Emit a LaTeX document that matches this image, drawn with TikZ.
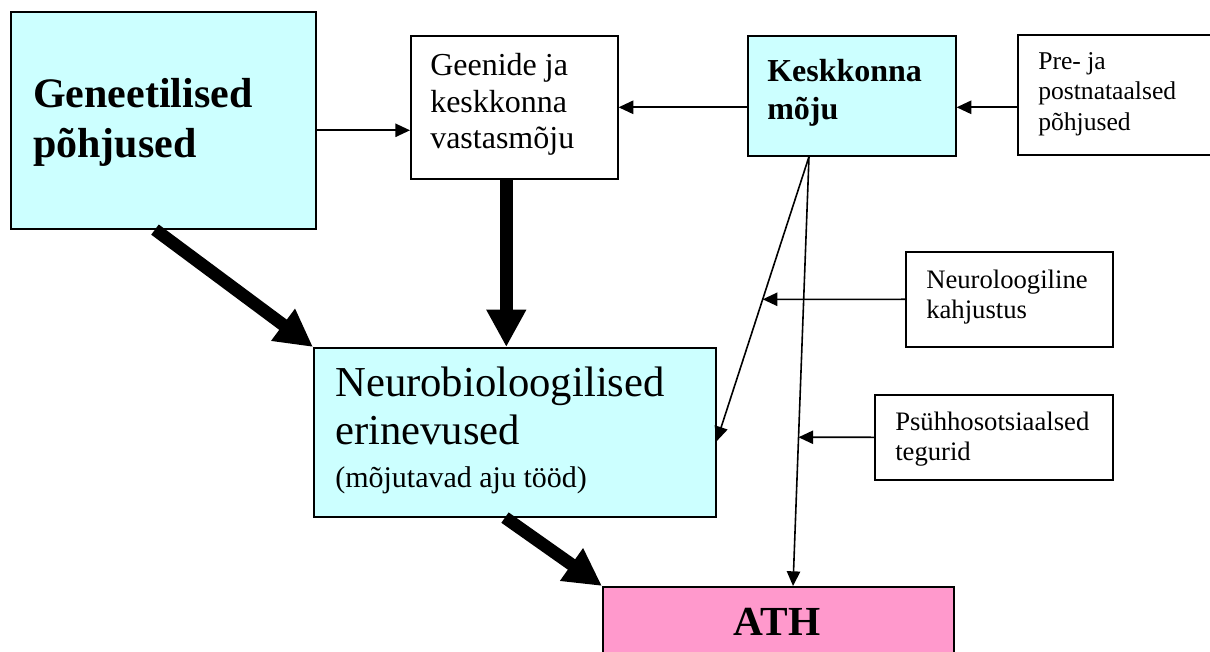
\documentclass[tikz,border=0pt]{standalone}
\usepackage{fontspec}
\setmainfont{Liberation Serif}
\usetikzlibrary{calc,arrows.meta}
\definecolor{boxcyan}{HTML}{CCFFFF}
\definecolor{boxpink}{HTML}{FF99CC}
\tikzset{
  box/.style={draw, line width=1.2pt, anchor=north west, inner sep=0pt},
  txt/.style={anchor=north west, align=left, inner sep=0pt},
  thinarrow/.style={line width=1.2pt, -{Triangle[length=11pt,width=10pt]}},
  fatarrow/.style={line width=9.5pt, -{Triangle[length=28pt,width=28pt]}},
}

\begin{document}
\begin{tikzpicture}[x=0.75pt, y=-0.75pt]
		%%%%% START %%%%%
		\useasboundingbox (0,0) rectangle (1210,652);
		
		\node[box, fill=boxcyan, minimum width=228.75pt, minimum height=162.75pt] (gen) at (10,11) {};
		\node[box, fill=white, minimum width=155.25pt, minimum height=107.25pt] (geen) at (410,35) {};
		\node[box, fill=boxcyan, minimum width=156pt, minimum height=90pt] (kesk) at (747,35) {};
		\node[box, fill=white, minimum width=160pt, minimum height=90pt] (pre) at (1017,34) {};
		\node[box, fill=white, minimum width=155.25pt, minimum height=71.25pt] (neuro) at (905,251) {};
		\node[box, fill=white, minimum width=178.5pt, minimum height=63.75pt] (psy) at (874,394) {};
		\node[box, fill=boxcyan, minimum width=301.5pt, minimum height=126.75pt] (nbio) at (313,347) {};
		\node[box, fill=boxpink, minimum width=263.25pt, minimum height=60pt] (ath) at (602,586) {};
		
		\node[txt, font=\fontsize{31.5}{37.5}\selectfont\bfseries] (gentxt) at (33,78) {Geneetilised\\põhjused};
		\node[txt, font=\fontsize{24}{27.4}\selectfont] (geentxt) at (430,53) {Geenide ja\\keskkonna\\vastasmõju};
		\node[txt, font=\fontsize{24}{28.5}\selectfont\bfseries] (kesktxt) at (767,59) {Keskkonna\\mõju};
		\node[txt, font=\fontsize{19.2}{23}\selectfont] (pretxt) at (1038,52) {Pre- ja\\postnataalsed\\põhjused};
		\node[txt, font=\fontsize{20}{22.5}\selectfont] (neurotxt) at (926,270) {Neuroloogiline\\kahjustus};
		\node[txt, font=\fontsize{20}{22.5}\selectfont] (psytxt) at (895,412) {Psühhosotsiaalsed\\tegurid};
		\node[txt, font=\fontsize{32}{35.5}\selectfont] (nbiotxt) at (335,367) {Neurobioloogilised\\erinevused\\[-3pt]{\fontsize{22.5}{27}\selectfont (mõjutavad aju tööd)}};
		\node[anchor=base, inner sep=0pt, font=\fontsize{31}{37}\selectfont\bfseries] (athtxt) at (777,635) {ATH};
		
		% thin arrows
		\coordinate (genout) at ($(gen.east)+(0,10)$);
		\draw[thinarrow] (genout) -- (genout -| geen.west);
		\draw[thinarrow] (kesk.west |- geen.east) -- (geen.east);
		\draw[thinarrow] (pre.west |- geen.east) -- (kesk.east |- geen.east);
		
		\coordinate (kfoot) at ($(kesk.south west)+(62,0)$);
		\coordinate (nbhit) at ($(nbio.east)+(0,9)$);
		\coordinate (athhit) at ($(ath.north west)+(191,0)$);
		\draw[thinarrow] (kfoot) -- (nbhit);
		\draw[thinarrow] (kfoot) -- (athhit);
		\draw[thinarrow] (neuro.west) -- (intersection cs: first line={(kfoot)--(nbhit)}, second line={(neuro.west)--(neuro.east)});
		\draw[thinarrow] (psy.west) -- (intersection cs: first line={(kfoot)--(athhit)}, second line={(psy.west)--(psy.east)});
		
		% thick arrows
		\coordinate (geenfoot) at ($(geen.south)+(-8,0)$);
		\draw[fatarrow] ($(gen.south west)+(145,0)$) -- (nbio.north west);
		\draw[fatarrow] (geenfoot) -- (geenfoot |- nbio.north);
		\draw[fatarrow] ($(nbio.south west)+(192,0)$) -- (ath.north west);
		
		%%%%% END %%%%%
\end{tikzpicture}
\end{document}
